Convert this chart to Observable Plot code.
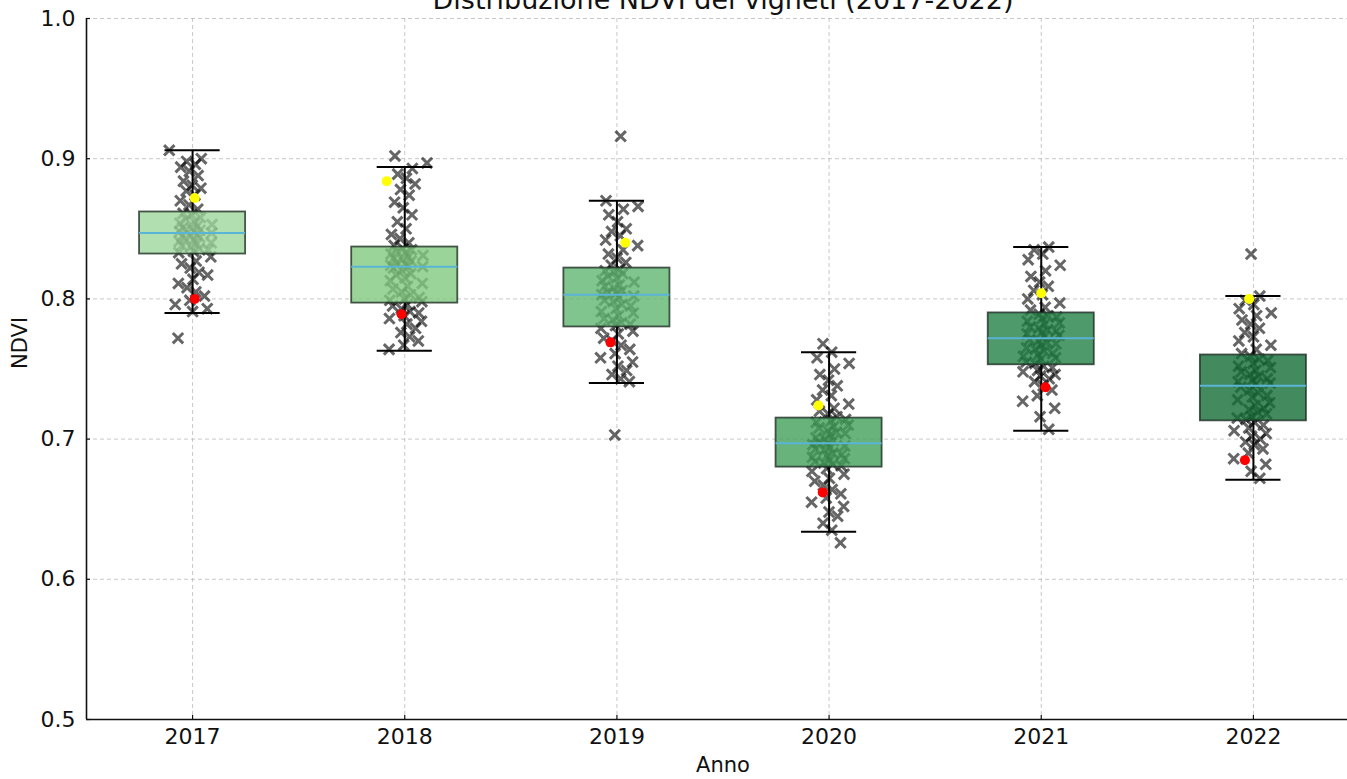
<!DOCTYPE html>
<html>
<head>
<meta charset="utf-8">
<script src="https://cdn.jsdelivr.net/npm/d3@7"></script>
<script src="https://cdn.jsdelivr.net/npm/@observablehq/plot@0.6"></script>
<style>
  html, body { margin: 0; padding: 0; background: white; overflow: hidden; }
  #chart svg { display: block; }
</style>
</head>
<body>
<div id="chart"></div>
<script>
// ---------- data ----------
const title = "Distribuzione NDVI dei vigneti (2017-2022)";
const years = ["2017", "2018", "2019", "2020", "2021", "2022"];

const whiskerLow  = [0.790, 0.763, 0.740, 0.634, 0.706, 0.671];
const q1s         = [0.832, 0.797, 0.780, 0.680, 0.753, 0.713];
const medians     = [0.847, 0.823, 0.803, 0.697, 0.772, 0.738];
const q3s         = [0.862, 0.837, 0.822, 0.715, 0.790, 0.760];
const whiskerHigh = [0.906, 0.894, 0.870, 0.762, 0.837, 0.802];

const yellowVals   = [0.872, 0.884, 0.840, 0.724, 0.804, 0.800];
const yellowOffset = [0.01, -0.085, 0.04, -0.05, 0.0, -0.02];
const redVals      = [0.800, 0.789, 0.769, 0.662, 0.737, 0.685];
const redOffset    = [0.01, -0.015, -0.03, -0.03, 0.02, -0.04];

const boxColors = ["#9fd79c", "#82c97e", "#60b572", "#429f5b", "#238145", "#146d37"];

const ndvi2017 = [0.906, 0.900, 0.898, 0.896, 0.894, 0.891, 0.888, 0.884, 0.881, 0.879, 0.877, 0.874, 0.870, 0.867, 0.864,
  0.861, 0.860, 0.858, 0.857, 0.855, 0.854, 0.853, 0.852, 0.851, 0.850, 0.849, 0.849, 0.848, 0.848, 0.847,
  0.846, 0.845, 0.845, 0.844, 0.843, 0.842, 0.841, 0.840, 0.839, 0.838, 0.837, 0.836, 0.835, 0.834, 0.833,
  0.830, 0.827, 0.825, 0.822, 0.819, 0.817, 0.814, 0.811, 0.808, 0.805, 0.802, 0.799, 0.796, 0.793, 0.791, 0.772];
const ndvi2018 = [0.902, 0.897, 0.893, 0.889, 0.886, 0.882, 0.878, 0.874, 0.869, 0.865, 0.860, 0.855, 0.850, 0.846, 0.843, 0.840, 0.838,
  0.836, 0.835, 0.834, 0.833, 0.832, 0.831, 0.830, 0.829, 0.828, 0.827, 0.826, 0.825, 0.824, 0.823, 0.823,
  0.822, 0.820, 0.818, 0.817, 0.815, 0.813, 0.811, 0.809, 0.807, 0.805, 0.803, 0.801, 0.800, 0.799, 0.798,
  0.796, 0.795, 0.793, 0.791, 0.790, 0.788, 0.786, 0.784, 0.782, 0.779, 0.776, 0.773, 0.770, 0.767, 0.764];
const ndvi2019 = [0.916, 0.870, 0.866, 0.864, 0.860, 0.855, 0.850, 0.848, 0.845, 0.842, 0.838, 0.835, 0.832, 0.829, 0.826, 0.824,
  0.821, 0.820, 0.819, 0.818, 0.816, 0.815, 0.813, 0.812, 0.810, 0.809, 0.808, 0.806, 0.805, 0.804, 0.803,
  0.802, 0.801, 0.799, 0.798, 0.796, 0.795, 0.793, 0.791, 0.790, 0.788, 0.786, 0.785, 0.783, 0.782, 0.781,
  0.779, 0.777, 0.775, 0.772, 0.770, 0.767, 0.764, 0.761, 0.758, 0.755, 0.752, 0.749, 0.746, 0.743, 0.741, 0.703];
const ndvi2020 = [0.768, 0.762, 0.758, 0.754, 0.750, 0.746, 0.742, 0.738, 0.735, 0.731, 0.728, 0.725, 0.722, 0.720, 0.718, 0.716,
  0.714, 0.713, 0.712, 0.710, 0.709, 0.708, 0.706, 0.705, 0.704, 0.703, 0.701, 0.700, 0.699, 0.698, 0.697,
  0.696, 0.695, 0.694, 0.693, 0.692, 0.690, 0.689, 0.688, 0.687, 0.686, 0.685, 0.684, 0.683, 0.682, 0.681,
  0.679, 0.677, 0.675, 0.672, 0.670, 0.667, 0.664, 0.661, 0.658, 0.655, 0.652, 0.648, 0.645, 0.640, 0.635, 0.626];
const ndvi2021 = [0.837, 0.835, 0.832, 0.828, 0.824, 0.820, 0.816, 0.812, 0.809, 0.806, 0.803, 0.800, 0.797, 0.794, 0.792,
  0.789, 0.788, 0.787, 0.786, 0.784, 0.783, 0.782, 0.780, 0.779, 0.778, 0.777, 0.776, 0.775, 0.774, 0.773,
  0.771, 0.770, 0.769, 0.768, 0.767, 0.765, 0.764, 0.763, 0.761, 0.760, 0.759, 0.758, 0.757, 0.755, 0.754,
  0.752, 0.751, 0.749, 0.748, 0.746, 0.745, 0.743, 0.741, 0.738, 0.735, 0.731, 0.727, 0.722, 0.716, 0.707];
const ndvi2022 = [0.832, 0.802, 0.799, 0.796, 0.793, 0.790, 0.788, 0.785, 0.782, 0.779, 0.776, 0.773, 0.770, 0.767, 0.764, 0.761,
  0.759, 0.757, 0.756, 0.754, 0.752, 0.751, 0.749, 0.748, 0.746, 0.745, 0.743, 0.742, 0.741, 0.740, 0.739,
  0.737, 0.735, 0.733, 0.731, 0.730, 0.728, 0.726, 0.724, 0.722, 0.721, 0.719, 0.718, 0.716, 0.715, 0.714,
  0.712, 0.710, 0.708, 0.706, 0.704, 0.702, 0.700, 0.698, 0.696, 0.693, 0.690, 0.686, 0.682, 0.677, 0.672];

const yTicks = [0.5, 0.6, 0.7, 0.8, 0.9, 1.0];
const xTicks = [1, 2, 3, 4, 5, 6];

// ---------- tables ----------
const series = [ndvi2017, ndvi2018, ndvi2019, ndvi2020, ndvi2021, ndvi2022];
const points = [];
series.forEach((vals, k) => {
  vals.forEach((v, j) => {
    // deterministic (non-random) horizontal spread of the strip
    const u = (j * 0.6180339887 + k * 0.37) % 1;
    const w = (j * 0.7548776662 + k * 0.21) % 1;
    points.push({ pos: k + 1, jit: (u + w - 1) * 0.11, v });
  });
});
const stats = years.map((y, k) => ({
  pos: k + 1, lo: whiskerLow[k], q1: q1s[k], med: medians[k], q3: q3s[k], hi: whiskerHigh[k],
  color: boxColors[k], yv: yellowVals[k], yo: yellowOffset[k], rv: redVals[k], ro: redOffset[k]
}));

const ink = "#111111";
const grid = { stroke: "#b0b0b0", strokeOpacity: 0.7, strokeDasharray: "4,3", strokeWidth: 1 };

const chart = Plot.plot({
  width: 1347,
  height: 779,
  marginLeft: 86,
  marginRight: 0,
  marginTop: 18,
  marginBottom: 60,
  x: { type: "linear", domain: [0.5, 6.5], range: [86, 1359], axis: null, label: null },
  y: { type: "linear", domain: [0.5, 1.0], axis: null, label: null },
  style: { fontFamily: "DejaVu Sans", fontSize: "21px", color: ink, background: "white" },
  marks: [
    // grid
    Plot.ruleY(yTicks, { y: d => d, ...grid }),
    Plot.ruleX(xTicks, { x: d => d, ...grid }),
    // jittered points
    Plot.dot(points, {
      x: d => d.pos + d.jit, y: "v", symbol: "times", r: 4.8,
      stroke: "black", strokeOpacity: 0.6, strokeWidth: 3
    }),
    // whiskers
    Plot.ruleX(stats, { x: "pos", y1: "lo", y2: "q1", stroke: "black", strokeWidth: 2 }),
    Plot.ruleX(stats, { x: "pos", y1: "q3", y2: "hi", stroke: "black", strokeWidth: 2 }),
    Plot.ruleY(stats, { y: "lo", x1: d => d.pos - 0.13, x2: d => d.pos + 0.13, stroke: "black", strokeWidth: 2 }),
    Plot.ruleY(stats, { y: "hi", x1: d => d.pos - 0.13, x2: d => d.pos + 0.13, stroke: "black", strokeWidth: 2 }),
    // boxes
    Plot.rect(stats, {
      x1: d => d.pos - 0.25, x2: d => d.pos + 0.25, y1: "q1", y2: "q3",
      fill: "color", fillOpacity: 0.8, stroke: "#1e2e24", strokeOpacity: 0.8, strokeWidth: 1.8
    }),
    // medians
    Plot.ruleY(stats, { y: "med", x1: d => d.pos - 0.25, x2: d => d.pos + 0.25, stroke: "#5ab4d6", strokeWidth: 2 }),
    // highlighted vineyards
    Plot.dot(stats, { x: d => d.pos + d.yo, y: "yv", r: 5, fill: "#ffff00" }),
    Plot.dot(stats, { x: d => d.pos + d.ro, y: "rv", r: 5, fill: "#ff0000" }),
    // axes
    Plot.axisY({ ticks: yTicks, tickFormat: d3.format(".1f"), tickSize: 0, tickPadding: 11, fontSize: 22, fill: ink, label: null }),
    Plot.ruleY(yTicks, { y: d => d, x1: () => 0.5, x2: () => 0.5 + 4 / 212.2, stroke: ink, strokeWidth: 1.2 }),
    Plot.axisX({ ticks: xTicks, tickFormat: d => years[d - 1], tickSize: 0, tickPadding: 9, fontSize: 22, fill: ink, label: null }),
    Plot.ruleX(xTicks, { x: d => d, y1: () => 0.5, y2: () => 0.5 + 4 / 1402, stroke: ink, strokeWidth: 1.2 }),
    Plot.ruleX([0.5], { x: d => d, stroke: ink, strokeWidth: 1.6 }),
    Plot.ruleY([0.5], { y: d => d, stroke: ink, strokeWidth: 1.6 }),
    // labels
    Plot.text([title], { x: () => 3.5, frameAnchor: "top", dy: -10, lineAnchor: "bottom", fontSize: 27, fill: ink }),
    Plot.text(["Anno"], { x: () => 3.5, frameAnchor: "bottom", dy: 46, lineAnchor: "middle", fontSize: 21, fill: ink }),
    Plot.text(["NDVI"], { frameAnchor: "left", dx: -66, rotate: -90, fontSize: 21, fill: ink })
  ]
});
document.getElementById("chart").appendChild(chart);
</script>
</body>
</html>
